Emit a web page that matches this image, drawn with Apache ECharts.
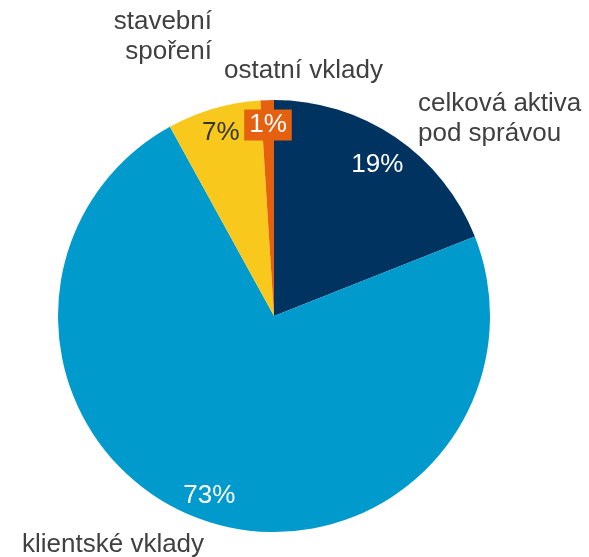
<!DOCTYPE html>
<html>
<head>
<meta charset="utf-8">
<script src="https://cdn.jsdelivr.net/npm/echarts@6/dist/echarts.min.js"></script>
<style>
  html, body { margin: 0; padding: 0; background: #ffffff; }
  #chart { width: 589px; height: 557px; }
</style>
</head>
<body>
<div id="chart"></div>
<script>
// Slices, clockwise from 12 o'clock
const categories = ['celková aktiva\npod správou', 'klientské vklady', 'stavební\nspoření', 'ostatní vklady'];
const shares = [19, 73, 7, 1];
const colors = ['#00335F', '#009ACD', '#F8C81C', '#E5600F'];
const percentColors = ['#ffffff', '#ffffff', '#333333', '#ffffff'];

// Where each category name sits next to the pie: [x, y, align]
const nameSpots = [
  [418, 119, 'left'],
  [22, 545, 'left'],
  [212, 37, 'right'],
  [224, 71, 'left']
];

const CENTER = [274, 316];
const RADIUS = 216;
const FONT = 'Liberation Sans, Arial, sans-serif';
const FONT_SIZE = 26;

const pieData = categories.map((name, i) => ({
  name: name,
  value: shares[i],
  itemStyle: { color: colors[i] }
}));

const chart = echarts.init(document.getElementById('chart'), null, { renderer: 'canvas' });

chart.setOption({
  animation: false,
  backgroundColor: '#ffffff',
  series: [
    {
      // the pie itself
      type: 'pie',
      center: CENTER,
      radius: [0, RADIUS],
      startAngle: 90,
      clockwise: true,
      silent: true,
      label: { show: false },
      labelLine: { show: false },
      data: pieData
    },
    {
      // percentage labels, placed inside the slices near the rim
      type: 'pie',
      center: CENTER,
      radius: [160, RADIUS],
      startAngle: 90,
      clockwise: true,
      silent: true,
      itemStyle: { color: 'transparent' },
      labelLine: { show: false },
      label: {
        show: true,
        position: 'inside',
        fontFamily: FONT,
        fontSize: FONT_SIZE,
        formatter: p => p.value + '%'
      },
      labelLayout: function (params) {
        // nudge the 19 % label slightly inward, as drawn
        return params.dataIndex === 0 ? { dx: -4, dy: 7 } : {};
      },
      data: pieData.map((d, i) => ({
        name: d.name,
        value: d.value,
        itemStyle: { color: 'transparent' },
        label: i === 3
          ? { color: percentColors[i], backgroundColor: colors[i], padding: [3, 5, 2, 5] }
          : { color: percentColors[i] }
      }))
    },
    {
      // category names outside the pie
      type: 'pie',
      center: CENTER,
      radius: [0, RADIUS],
      startAngle: 90,
      clockwise: true,
      silent: true,
      itemStyle: { color: 'transparent' },
      labelLine: { show: false },
      label: {
        show: true,
        position: 'outside',
        alignTo: 'none',
        overflow: 'none',
        width: 400,
        fontFamily: FONT,
        fontSize: FONT_SIZE,
        lineHeight: 30,
        color: '#404040',
        formatter: p => p.name
      },
      labelLayout: function (params) {
        const s = nameSpots[params.dataIndex];
        return { x: s[0], y: s[1], align: s[2], verticalAlign: 'middle', moveOverlap: false, hideOverlap: false };
      },
      data: pieData.map(d => ({ name: d.name, value: d.value, itemStyle: { color: 'transparent' } }))
    }
  ]
});
</script>
</body>
</html>
